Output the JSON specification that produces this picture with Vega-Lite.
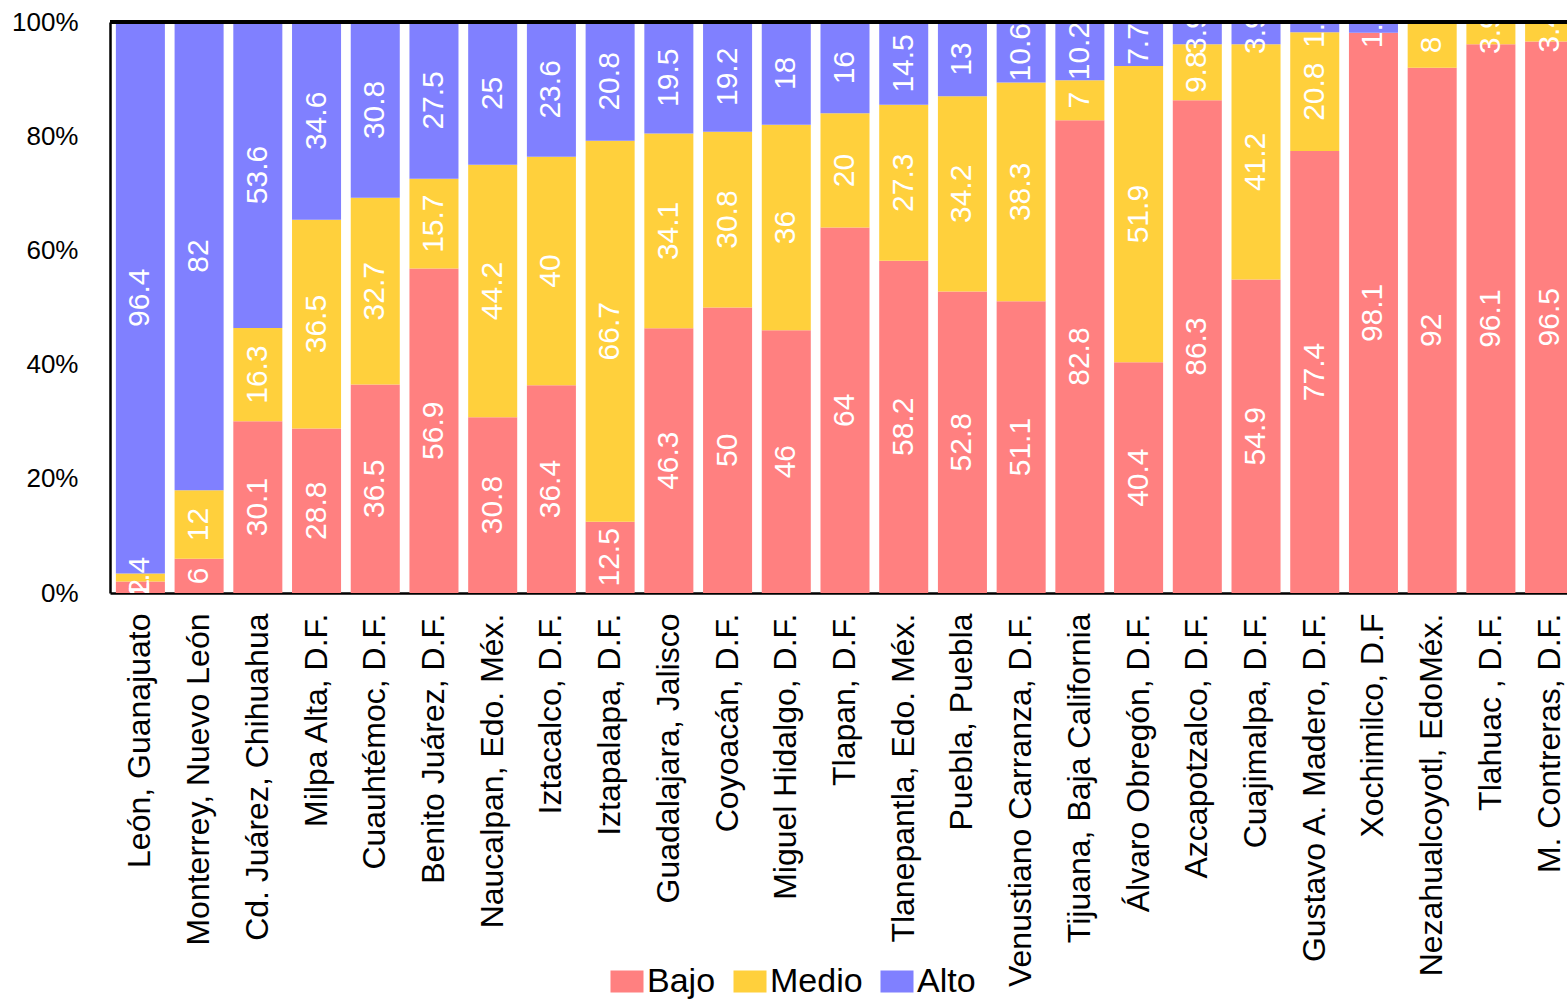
{
  "$schema": "https://vega.github.io/schema/vega-lite/v6.json",
  "autosize": {"type": "none"},
  "width": 1457,
  "height": 571,
  "padding": {"left": 110, "top": 22, "right": 0, "bottom": 406},
  "background": "white",
  "config": {
    "view": {"stroke": null},
    "font": "Liberation Sans",
    "axis": {"labelFont": "Liberation Sans", "labelColor": "black", "domainColor": "black", "domainWidth": 2.5, "ticks": false, "grid": false, "title": null}
  },
  "data": {
    "values": [
      {"ciudad": "León, Guanajuato", "Bajo": 2, "Medio": 1.4, "Alto": 96.4},
      {"ciudad": "Monterrey, Nuevo León", "Bajo": 6, "Medio": 12, "Alto": 82},
      {"ciudad": "Cd. Juárez, Chihuahua", "Bajo": 30.1, "Medio": 16.3, "Alto": 53.6},
      {"ciudad": "Milpa Alta, D.F.", "Bajo": 28.8, "Medio": 36.5, "Alto": 34.6},
      {"ciudad": "Cuauhtémoc, D.F.", "Bajo": 36.5, "Medio": 32.7, "Alto": 30.8},
      {"ciudad": "Benito Juárez, D.F.", "Bajo": 56.9, "Medio": 15.7, "Alto": 27.5},
      {"ciudad": "Naucalpan, Edo. Méx.", "Bajo": 30.8, "Medio": 44.2, "Alto": 25},
      {"ciudad": "Iztacalco, D.F.", "Bajo": 36.4, "Medio": 40, "Alto": 23.6},
      {"ciudad": "Iztapalapa, D.F.", "Bajo": 12.5, "Medio": 66.7, "Alto": 20.8},
      {"ciudad": "Guadalajara, Jalisco", "Bajo": 46.3, "Medio": 34.1, "Alto": 19.5},
      {"ciudad": "Coyoacán, D.F.", "Bajo": 50, "Medio": 30.8, "Alto": 19.2},
      {"ciudad": "Miguel Hidalgo, D.F.", "Bajo": 46, "Medio": 36, "Alto": 18},
      {"ciudad": "Tlapan, D.F.", "Bajo": 64, "Medio": 20, "Alto": 16},
      {"ciudad": "Tlanepantla, Edo. Méx.", "Bajo": 58.2, "Medio": 27.3, "Alto": 14.5},
      {"ciudad": "Puebla, Puebla", "Bajo": 52.8, "Medio": 34.2, "Alto": 13},
      {"ciudad": "Venustiano Carranza, D.F.", "Bajo": 51.1, "Medio": 38.3, "Alto": 10.6},
      {"ciudad": "Tijuana, Baja California", "Bajo": 82.8, "Medio": 7, "Alto": 10.2},
      {"ciudad": "Álvaro Obregón, D.F.", "Bajo": 40.4, "Medio": 51.9, "Alto": 7.7},
      {"ciudad": "Azcapotzalco, D.F.", "Bajo": 86.3, "Medio": 9.8, "Alto": 3.9},
      {"ciudad": "Cuajimalpa, D.F.", "Bajo": 54.9, "Medio": 41.2, "Alto": 3.9},
      {"ciudad": "Gustavo A. Madero, D.F.", "Bajo": 77.4, "Medio": 20.8, "Alto": 1.8},
      {"ciudad": "Xochimilco, D.F", "Bajo": 98.1, "Medio": 0, "Alto": 1.9},
      {"ciudad": "Nezahualcoyotl, EdoMéx.", "Bajo": 92, "Medio": 8, "Alto": 0},
      {"ciudad": "Tlahuac , D.F.", "Bajo": 96.1, "Medio": 3.9, "Alto": 0},
      {"ciudad": "M. Contreras, D.F.", "Bajo": 96.5, "Medio": 3.4, "Alto": 0}
    ]
  },
  "transform": [
    {"fold": ["Bajo", "Medio", "Alto"], "as": ["nivel", "value"]},
    {"stack": "value", "groupby": ["ciudad"], "offset": "normalize", "as": ["y0", "y1"]}
  ],
  "layer": [
    {
      "mark": {"type": "bar"},
      "encoding": {
        "x": {
          "field": "ciudad",
          "type": "nominal",
          "sort": null,
          "scale": {"range": [0, 1470], "paddingInner": 0.165, "paddingOuter": 0.1},
          "axis": {"labelAngle": -90, "labelFontSize": 32, "labelPadding": 20, "labelLimit": 0}
        },
        "y": {
          "field": "y0",
          "type": "quantitative",
          "scale": {"domain": [0, 1], "nice": false},
          "axis": {"format": "%", "values": [0, 0.2, 0.4, 0.6, 0.8, 1], "labelFontSize": 26, "labelPadding": 32}
        },
        "y2": {"field": "y1"},
        "color": {
          "field": "nivel",
          "type": "nominal",
          "scale": {"domain": ["Bajo", "Medio", "Alto"], "range": ["#FF8080", "#FFD03C", "#8080FF"]},
          "legend": {
            "title": null,
            "orient": "none",
            "direction": "horizontal",
            "legendX": 500,
            "legendY": 942.5,
            "padding": 0,
            "symbolType": "M-1,-0.67H1V0.67H-1Z",
            "symbolSize": 1089,
            "symbolStrokeWidth": 0,
            "symbolOpacity": 1,
            "labelFontSize": 34,
            "labelFont": "Liberation Sans",
            "labelColor": "black",
            "labelOffset": 3,
            "columnPadding": 17
          }
        }
      }
    },
    {
      "transform": [
        {"filter": "datum.value > 0"},
        {"calculate": "(datum.y0 + datum.y1) / 2", "as": "centro"}
      ],
      "mark": {"type": "text", "color": "white", "fontSize": 30, "angle": 270, "align": "center", "baseline": "middle", "clip": true},
      "encoding": {
        "x": {"field": "ciudad", "type": "nominal", "sort": null},
        "y": {"field": "centro", "type": "quantitative"},
        "text": {"field": "value", "type": "nominal"}
      }
    },
    {
      "mark": {"type": "rule", "color": "black", "strokeWidth": 2.5},
      "encoding": {"y": {"datum": 1, "type": "quantitative"}}
    }
  ]
}
